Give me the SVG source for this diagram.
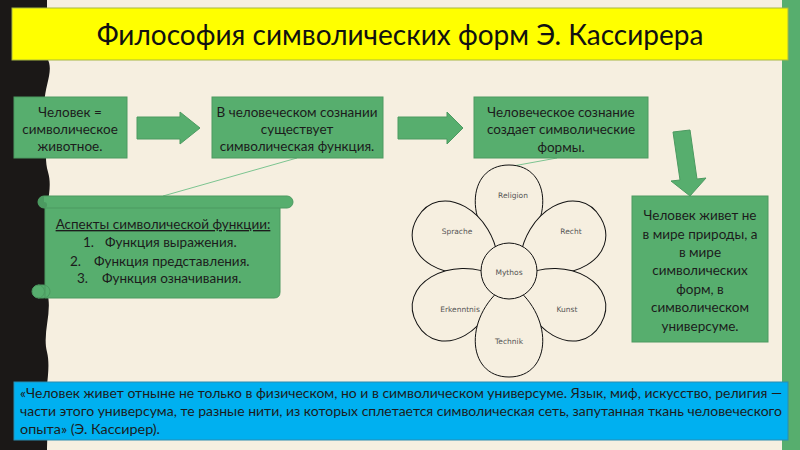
<svg xmlns="http://www.w3.org/2000/svg" width="800" height="450" viewBox="0 0 800 450">
<defs>
<style>
.box{fill:#57AE6E;stroke:#4C9A61;stroke-width:1}
.bt{font-family:Lato,"Noto Sans",sans-serif;font-size:13.5px;fill:#1c1c1c;text-anchor:middle}
.bl{font-family:Lato,"Noto Sans",sans-serif;font-size:13.5px;fill:#1c1c1c;text-anchor:start}
.conn{stroke:#7CC490;stroke-width:1;fill:none}
.arrow{fill:#57AE6E;stroke:#4C9A61;stroke-width:1}
.petal{fill:#F6EFE0;stroke:#111;stroke-width:1}
.fl{font-family:"DejaVu Sans",sans-serif;font-size:7.5px;fill:#555;text-anchor:middle}
.qt{font-family:Lato,"Noto Sans",sans-serif;font-size:13.5px;fill:#1c1c1c}
</style>
<path id="petal" d="M0,-12 C-46,-42 -44,-106 0,-106 C44,-106 46,-42 0,-12 Z"/>
</defs>
<rect x="0" y="0" width="800" height="450" fill="#F6EFE0"/>
<path d="M0,0 H47 V58 C56,72 40,92 46,112 C52,132 42,152 48,172 C54,192 42,212 47,232 C52,252 42,272 47,292 C53,312 42,332 47,352 C52,372 42,400 46,420 C48,432 47,442 47,450 H0 Z" fill="#1B1817"/>
<rect x="782" y="0" width="18" height="450" fill="#57AE6E"/>
<g id="title">
<rect x="12" y="8" width="776" height="52" fill="#FFFF00" stroke="#A8B840" stroke-width="1"/>
<text x="400" y="45" font-family="Lato,'Noto Sans',sans-serif" font-size="28" fill="#111" text-anchor="middle">Философия символических форм Э. Кассирера</text>
</g>
<g id="connectors">
<polygon class="arrow" points="137,117 180,117 180,112 200,128 180,144 180,139 137,139"/>
<polygon class="arrow" points="398,117 447,117 447,112 463,128 447,144 447,139 398,139"/>
<polygon class="arrow" points="673,132 690,130 697,179 706,178 690,196 671,181 680,180"/>
<line class="conn" x1="297" y1="158" x2="163" y2="196"/>
<line class="conn" x1="557" y1="158" x2="513" y2="166"/>
</g>
<g id="box1">
<rect class="box" x="14" y="97" width="113" height="61"/>
<text class="bt" x="70" y="117">Человек =</text>
<text class="bt" x="70" y="134">символическое</text>
<text class="bt" x="70" y="151">животное.</text>
</g>
<g id="box2">
<rect class="box" x="212" y="97" width="171" height="61"/>
<text class="bt" x="297" y="117">В человеческом сознании</text>
<text class="bt" x="297" y="134">существует</text>
<text class="bt" x="297" y="151">символическая функция.</text>
</g>
<g id="box3">
<rect class="box" x="474" y="97" width="174" height="61"/>
<text class="bt" x="561" y="117">Человеческое сознание</text>
<text class="bt" x="561" y="134">создает символические</text>
<text class="bt" x="561" y="152">формы.</text>
</g>
<g id="box4">
<rect class="box" x="632" y="196" width="136" height="146"/>
<text class="bt" x="700" y="220">Человек живет не</text>
<text class="bt" x="700" y="239">в мире природы, а</text>
<text class="bt" x="700" y="257">в мире</text>
<text class="bt" x="700" y="275">символических</text>
<text class="bt" x="700" y="294">форм, в</text>
<text class="bt" x="700" y="312">символическом</text>
<text class="bt" x="700" y="331">универсуме.</text>
</g>
<g id="scroll">
<path d="M45,202 H280 V292 Q280,298 274,298 H45 Z" class="box"/>
<rect x="38" y="196" width="255" height="12" rx="6" class="box"/>
<path d="M44,196 a6,6 0 0 0 0,12 a3,3 0 0 0 0,-6" fill="#4C9A61"/>
<rect x="32" y="285" width="18" height="13" rx="6.5" class="box"/>
<path d="M38,285 a6.5,6.5 0 0 1 0,13 M45,285 V298" stroke="#4C9A61" fill="none"/>
<text class="bt" x="163" y="229" text-decoration="underline">Аспекты символической функции:</text>
<text class="bl" x="83" y="247">1.</text>
<text class="bl" x="105" y="247">Функция выражения.</text>
<text class="bl" x="70" y="266">2.</text>
<text class="bl" x="94" y="266">Функция представления.</text>
<text class="bl" x="77" y="283">3.</text>
<text class="bl" x="102" y="283">Функция означивания.</text>
</g>
<g id="flower" transform="translate(509,271)">
<use href="#petal" class="petal" transform="rotate(0)"/>
<use href="#petal" class="petal" transform="rotate(-60)"/>
<use href="#petal" class="petal" transform="rotate(60)"/>
<use href="#petal" class="petal" transform="rotate(-120)"/>
<use href="#petal" class="petal" transform="rotate(120)"/>
<use href="#petal" class="petal" transform="rotate(180)"/>
<circle cx="0" cy="0" r="28" class="petal"/>
<text class="fl" x="4" y="-73">Religion</text>
<text class="fl" x="-52" y="-37">Sprache</text>
<text class="fl" x="62" y="-37">Recht</text>
<text class="fl" x="-49" y="41">Erkenntnis</text>
<text class="fl" x="58" y="41">Kunst</text>
<text class="fl" x="0" y="73">Technik</text>
<text class="fl" x="0" y="3.5" font-size="9.5">Mythos</text>
</g>
<g id="quote">
<rect x="14" y="382" width="774" height="58" fill="#00B0F0" stroke="#2A8CB0" stroke-width="1"/>
<text class="qt" x="20" y="398" textLength="762" lengthAdjust="spacingAndGlyphs">«Человек живет отныне не только в физическом, но и в символическом универсуме. Язык, миф, искусство, религия —</text>
<text class="qt" x="20" y="416" textLength="762" lengthAdjust="spacingAndGlyphs">части этого универсума, те разные нити, из которых сплетается символическая сеть, запутанная ткань человеческого</text>
<text class="qt" x="20" y="434" textLength="140" lengthAdjust="spacingAndGlyphs">опыта» (Э. Кассирер).</text>
</g>
</svg>
